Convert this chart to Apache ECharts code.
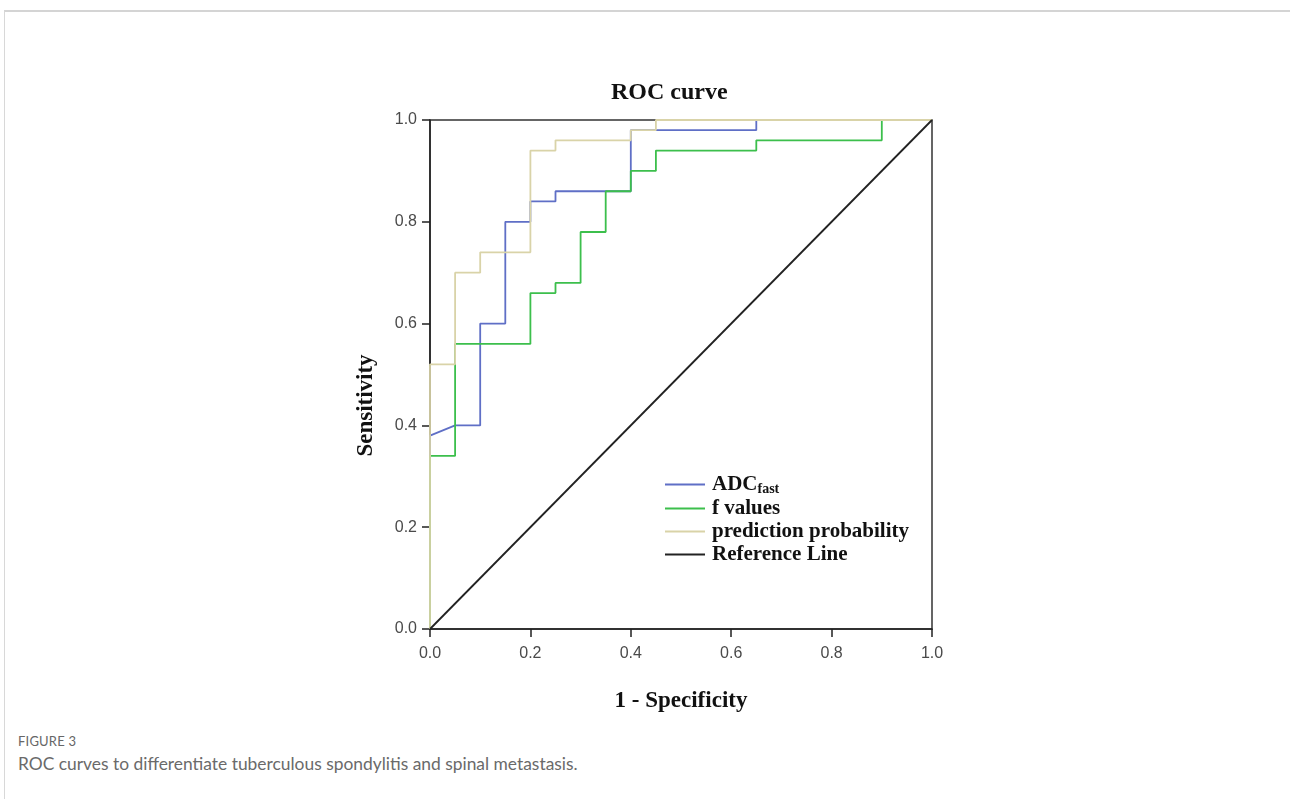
<!DOCTYPE html>
<html>
<head>
<meta charset="utf-8">
<script src="https://cdn.jsdelivr.net/npm/echarts@6/dist/echarts.min.js"></script>
<style>
html, body { margin: 0; padding: 0; background: #fff; }
.frame {
  position: absolute; left: 4px; top: 10px; width: 1286px; height: 789px;
  border-top: 2px solid #d4d4d4; border-left: 1px solid #d8d8d8;
}
#chartRoc { position: absolute; left: 0; top: 0; width: 1290px; height: 720px; }
.caption { position: absolute; left: 18px; top: 731px; font-family: Lato, "Open Sans", sans-serif; color: #666; }
.caption .fig { font-size: 13px; letter-spacing: 0.2px; line-height: 20px; }
.caption .txt { font-size: 17.4px; line-height: 26px; color: #6a6a6a; }
</style>
</head>
<body>
<div class="frame"></div>
<div id="chartRoc"></div>
<div class="caption">
  <div class="fig">FIGURE 3</div>
  <div class="txt">ROC curves to differentiate tuberculous spondylitis and spinal metastasis.</div>
</div>
<script>
// ROC coordinates (1 - specificity, sensitivity)
var adcFpr  = [0, 0, 0.05, 0.1, 0.1, 0.15, 0.15, 0.2, 0.2, 0.25, 0.25, 0.4, 0.4, 0.65, 0.65, 1];
var adcTpr  = [0, 0.38, 0.40, 0.40, 0.60, 0.60, 0.80, 0.80, 0.84, 0.84, 0.86, 0.86, 0.98, 0.98, 1, 1];
var fFpr    = [0, 0, 0.05, 0.05, 0.2, 0.2, 0.25, 0.25, 0.3, 0.3, 0.35, 0.35, 0.4, 0.4, 0.45, 0.45, 0.65, 0.65, 0.9, 0.9, 1];
var fTpr    = [0, 0.34, 0.34, 0.56, 0.56, 0.66, 0.66, 0.68, 0.68, 0.78, 0.78, 0.86, 0.86, 0.90, 0.90, 0.94, 0.94, 0.96, 0.96, 1, 1];
var predFpr = [0, 0, 0.05, 0.05, 0.1, 0.1, 0.2, 0.2, 0.25, 0.25, 0.4, 0.4, 0.45, 0.45, 1];
var predTpr = [0, 0.52, 0.52, 0.70, 0.70, 0.74, 0.74, 0.94, 0.94, 0.96, 0.96, 0.98, 0.98, 1, 1];
var refFpr  = [0, 1];
var refTpr  = [0, 1];

function pairs(xs, ys) {
  return xs.map(function (x, i) { return [x, ys[i]]; });
}

var serif = '"Liberation Serif", "DejaVu Serif", serif';
var sans = '"Liberation Sans", Arial, sans-serif';
var cBlue = '#5f6fc6', cGreen = '#3cbf4c', cBeige = '#d9d3a8', cBlack = '#222';

var chartRoc = echarts.init(document.getElementById('chartRoc'));
chartRoc.setOption({
  animation: false,
  title: {
    text: 'ROC curve',
    left: 606,
    top: 76,
    textStyle: { fontFamily: serif, fontWeight: 'bold', fontSize: 24, color: '#111' }
  },
  grid: {
    left: 430, top: 120, width: 502, height: 509,
    show: true, borderColor: '#333', borderWidth: 1.5, backgroundColor: 'transparent'
  },
  legend: {
    orient: 'vertical',
    left: 660,
    top: 468,
    icon: 'rect',
    itemWidth: 40,
    itemHeight: 2,
    itemGap: 2,
    data: [
      { name: 'ADC', itemStyle: { color: cBlue } },
      { name: 'f values', itemStyle: { color: cGreen } },
      { name: 'prediction probability', itemStyle: { color: cBeige } },
      { name: 'Reference Line', itemStyle: { color: cBlack } }
    ],
    formatter: function (name) {
      if (name === 'ADC') return '{b|ADC}{s|fast}';
      return '{b|' + name + '}';
    },
    textStyle: {
      fontFamily: serif, fontWeight: 'bold', fontSize: 21, color: '#111', padding: [0, 0, 0, 2],
      rich: {
        b: { fontFamily: serif, fontWeight: 'bold', fontSize: 21, color: '#111', lineHeight: 23 },
        s: { fontFamily: serif, fontWeight: 'bold', fontSize: 14, color: '#111', padding: [9, 0, 0, 0], lineHeight: 23 }
      }
    }
  },
  xAxis: {
    type: 'value', min: 0, max: 1, interval: 0.2,
    name: '1 - Specificity', nameLocation: 'middle', nameGap: 61,
    nameTextStyle: { fontFamily: serif, fontWeight: 'bold', fontSize: 23, color: '#111' },
    axisLine: { show: true, lineStyle: { color: '#222', width: 1.5 } },
    axisTick: { show: true, length: 8, lineStyle: { color: '#222', width: 1.5 } },
    axisLabel: {
      margin: 17, fontFamily: sans, fontSize: 16, color: '#4a4a4a',
      formatter: function (v) { return v.toFixed(1); }
    },
    splitLine: { show: false }
  },
  yAxis: {
    type: 'value', min: 0, max: 1, interval: 0.2,
    name: 'Sensitivity', nameLocation: 'middle', nameGap: 52,
    nameTextStyle: {
      fontFamily: serif, fontWeight: 'bold', fontSize: 23, color: '#111',
      padding: [0, 62, 0, 0]
    },
    axisLine: { show: true, lineStyle: { color: '#222', width: 1.5 } },
    axisTick: { show: true, length: 8, lineStyle: { color: '#222', width: 1.5 } },
    axisLabel: {
      margin: 13, fontFamily: sans, fontSize: 16, color: '#4a4a4a',
      formatter: function (v) { return v.toFixed(1); }
    },
    splitLine: { show: false }
  },
  series: [
    {
      name: 'ADC', type: 'line', symbol: 'none', data: pairs(adcFpr, adcTpr),
      lineStyle: { color: cBlue, width: 1.8 }, itemStyle: { color: cBlue }
    },
    {
      name: 'f values', type: 'line', symbol: 'none', data: pairs(fFpr, fTpr),
      lineStyle: { color: cGreen, width: 1.8 }, itemStyle: { color: cGreen }
    },
    {
      name: 'prediction probability', type: 'line', symbol: 'none', data: pairs(predFpr, predTpr),
      lineStyle: { color: cBeige, width: 1.8 }, itemStyle: { color: cBeige }
    },
    {
      name: 'Reference Line', type: 'line', symbol: 'none', data: pairs(refFpr, refTpr),
      lineStyle: { color: cBlack, width: 1.8 }, itemStyle: { color: cBlack }
    }
  ]
});
</script>
</body>
</html>
